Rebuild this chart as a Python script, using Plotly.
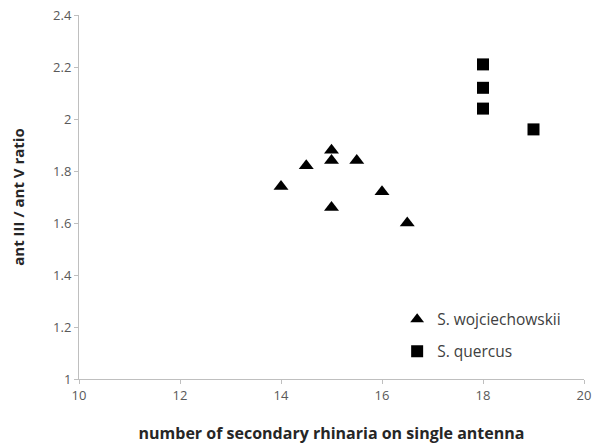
import plotly.graph_objects as go

# S. wojciechowskii
woj_x = [14, 14.5, 15, 15, 15.5, 15, 16, 16.5]
woj_y = [1.74, 1.82, 1.88, 1.84, 1.84, 1.66, 1.72, 1.60]
# S. quercus
que_x = [18, 18, 18, 19]
que_y = [2.21, 2.12, 2.04, 1.96]

x_ticks = [10, 12, 14, 16, 18, 20]
y_ticks = [1, 1.2, 1.4, 1.6, 1.8, 2, 2.2, 2.4]

fig = go.Figure()
fig.add_trace(go.Scatter(x=woj_x, y=woj_y, mode="markers", name="S. wojciechowskii",
                         legendgroup="a",
                         marker=dict(symbol="triangle-up", size=13, color="black")))
fig.add_trace(go.Scatter(x=que_x, y=que_y, mode="markers", name="S. quercus",
                         legendgroup="b",
                         marker=dict(symbol="square", size=12, color="black")))

font_family = "Open Sans, Lato, sans-serif"
fig.update_layout(
    width=592, height=445,
    margin=dict(l=79, r=8, t=15, b=66),
    paper_bgcolor="white", plot_bgcolor="white",
    font=dict(family=font_family, color="#595959", size=12),
    showlegend=True,
    legend=dict(x=0.63, y=0.21, xanchor="left", yanchor="top",
                font=dict(size=15.5, color="#404040"),
                itemsizing="constant", tracegroupgap=9, bgcolor="rgba(0,0,0,0)"),
    xaxis=dict(range=[10, 20], tickvals=x_ticks, ticktext=[str(v) for v in x_ticks],
               automargin=False, ticklabeloverflow="allow",
               showgrid=False, zeroline=False, showline=True, linecolor="#bfbfbf",
               ticks="outside", ticklen=4, tickcolor="#bfbfbf",
               tickfont=dict(size=13, color="#595959"),
               title=dict(text="<b>number of secondary rhinaria on single antenna</b>",
                          font=dict(size=16, color="#262626"), standoff=25)),
    yaxis=dict(range=[1, 2.4], tickvals=y_ticks, ticktext=["1", "1.2", "1.4", "1.6", "1.8", "2", "2.2", "2.4"],
               automargin=False, ticklabeloverflow="allow",
               showgrid=False, zeroline=False, showline=True, linecolor="#bfbfbf",
               ticks="outside", ticklen=4, tickcolor="#bfbfbf",
               tickfont=dict(size=13, color="#595959"),
               title=dict(text="<b>ant III / ant V ratio</b>",
                          font=dict(size=15, color="#262626"), standoff=24)),
)

# remove the browser's default 8px body margin so the figure fills the window
fig.write_html("out.html", config={"displayModeBar": False},
               post_script="document.body.style.margin='0';")
